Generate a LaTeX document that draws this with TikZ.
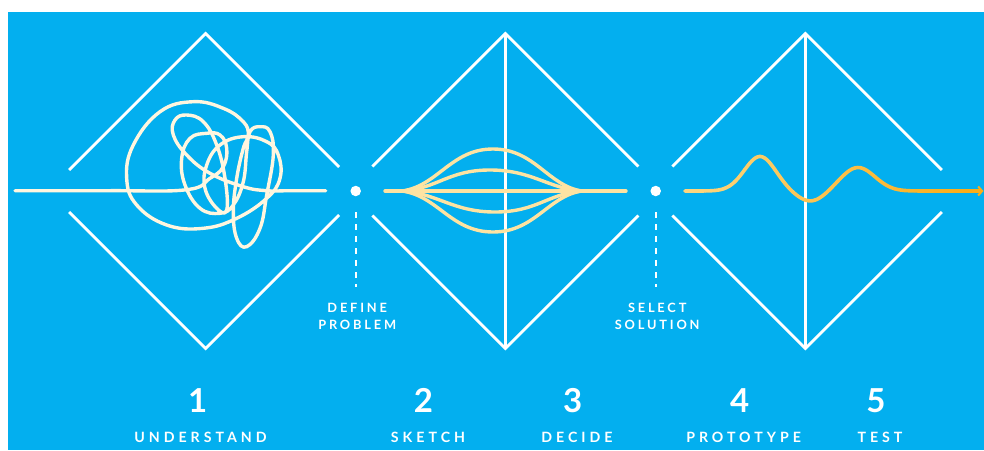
\documentclass[tikz,border=0pt]{standalone}
\usepackage{fontspec}
\newfontfamily\lblfont{Lato}[LetterSpace=28]
\newfontfamily\midfont{Lato}[LetterSpace=22]
\newfontfamily\numfont{Lato}
\usetikzlibrary{arrows.meta}
\definecolor{bgblue}{HTML}{03AFEF}
\definecolor{cream}{HTML}{FFF6DF}
\definecolor{lensy}{HTML}{FDE3A2}
\definecolor{wavelight}{HTML}{FDD680}
\definecolor{waveorange}{HTML}{FBAD18}
\tikzset{
  wline/.style={draw=white, line width=2.8pt, line join=miter},
  scribble/.style={draw=cream, line width=3.4pt, line cap=round, line join=round},
  lens/.style={draw=lensy, line width=3.4pt, line cap=round},
  wavel/.style={line width=3.6pt, line cap=round},
  dotnode/.style={circle, fill=white, inner sep=0pt, minimum size=10.5pt},
  dashline/.style={draw=white, line width=2.2pt, dash pattern=on 6pt off 6pt},
  numlabel/.style={text=white, anchor=base, inner sep=0pt, font=\numfont\bfseries\fontsize{33}{33}\selectfont},
  steplabel/.style={text=white, anchor=base, inner sep=0pt, font=\lblfont\bfseries\fontsize{14.2}{16}\selectfont},
  midlabel/.style={text=white, anchor=base, inner sep=0pt, font=\midfont\bfseries\fontsize{12.8}{14}\selectfont},
  declare function={wavey(\t)=191 - 34.5*exp(max(-9,0-((\t-760)/22)^2)) + 10.5*exp(max(-9,0-((\t-811)/20)^2)) - 23.5*exp(max(-9,0-((\t-858)/24)^2));}
}
\begin{document}
\begin{tikzpicture}[x=1pt,y=-1pt]
\useasboundingbox (0,0) rectangle (984,450);
\fill[white] (0,0) rectangle (984,450);
\fill[bgblue] (8,12) rectangle (984,450);

% diamonds
\foreach \cx/\dl/\dr/\v in {205.7/21/24/0, 505.3/24.5/24.5/1, 805.3/24.5/21/1} {
  \draw[wline] (\cx-157.5+\dl, 191-\dl) -- (\cx,33.5) -- (\cx+157.5-\dr, 191-\dr);
  \draw[wline] (\cx-157.5+\dl, 191+\dl) -- (\cx,348.5) -- (\cx+157.5-\dr, 191+\dr);
  \ifnum\v=1 \draw[wline, line cap=butt] (\cx,33.5) -- (\cx,348.5); \fi
}

% scribble (understand)
\draw[scribble] plot[smooth, tension=0.7] coordinates {
 (15,190.7) (110,190.7) (186.7,189.7) (210,178.3) (223.3,166.7) (226.7,148.3) (220,135)
 (206.7,133.3) (190,138.3) (181.7,158.3) (185,185) (200,208.3) (220,213.3) (233.3,205)
 (243.3,181.7) (246.7,151.7) (250,131.7) (260,126.7) (270,131.7) (273.3,155) (266.7,195)
 (260,228.3) (246.7,246.7) (236.7,238.3) (233.3,211.7) (236.7,178.3) (243.3,148.3) (248.3,135)
 (243.3,121.7) (223.3,108.3) (193.3,101.7) (160,111.7) (133.3,145) (126.7,178.3) (136.7,205)
 (166.7,225) (203.3,228.3) (236.7,218.3) (266.7,198.3) (280,178.3) (278.3,155) (266.7,141.7)
 (243.3,136.7) (220,145) (206.7,165) (205,188.3) (216.7,208.3) (226.7,210) (225,178.3)
 (216.7,145) (203.3,121.7) (186.7,115) (175,120) (173.3,135) (186.7,155) (210,173.3)
 (243.3,186.7) (266.7,190.7) (290,190.7) (325.7,190.7)};

% dots, dashed leaders, labels
\node[dotnode] (dot1) at (355.7,191) {};
\node[dotnode] (dot2) at (655.7,191) {};
\coordinate (d1a) at (355.7,212); \coordinate (d1b) at (355.7,287);
\coordinate (d2a) at (655.7,212); \coordinate (d2b) at (655.7,287);
\draw[dashline] (d1a) -- (d1b);
\draw[dashline] (d2a) -- (d2b);
\node[midlabel] (define) at (357.2,312.7) {DEFINE};
\node[midlabel] (problem) at (357.2,329.3) {PROBLEM};
\node[midlabel] (select) at (657.2,312.7) {SELECT};
\node[midlabel] (solution) at (657.2,329.3) {SOLUTION};

% lens (sketch / decide)
\coordinate (lensL) at (385,191);
\coordinate (lensR) at (626,191);
\draw[lens] (lensL) -- (lensR);
\foreach \a/\px in {42/493, 21/490, -21/495, -41/493} {
  \draw[lens, line cap=butt] (402,191) .. controls (438,{191-0.12*\a}) and ({\px-42},{191-\a}) .. (\px,{191-\a})
     .. controls ({\px+42},{191-\a}) and (548,{191-0.12*\a}) .. (582,191);
}

% wave (prototype / test)
\foreach \i in {0,...,28} {
  \pgfmathsetmacro\xa{685+\i*10}
  \pgfmathsetmacro\xb{\xa+10}
  \pgfmathsetmacro\pc{100-\i*100/28}
  \draw[wavel, draw=wavelight!\pc!waveorange] plot[domain=\xa:\xb, samples=8, smooth] (\x,{wavey(\x)});
}
\coordinate (wend) at (983.5,191);
\draw[wavel, draw=waveorange, line cap=butt, -{Straight Barb[length=4pt,width=9pt,line width=2pt]}] (974,191) -- (wend);

% step numbers and names
\node[numlabel] (n1) at (197.7,412) {1};
\node[numlabel] (n2) at (423.5,412) {2};
\node[numlabel] (n3) at (572.7,412) {3};
\node[numlabel] (n4) at (739.6,412) {4};
\node[numlabel] (n5) at (876,412) {5};
\node[steplabel] (s1) at (200.5,442) {UNDERSTAND};
\node[steplabel] (s2) at (428,442) {SKETCH};
\node[steplabel] (s3) at (577,442) {DECIDE};
\node[steplabel] (s4) at (743.6,442) {PROTOTYPE};
\node[steplabel] (s5) at (880,442) {TEST};
\end{tikzpicture}
\end{document}
